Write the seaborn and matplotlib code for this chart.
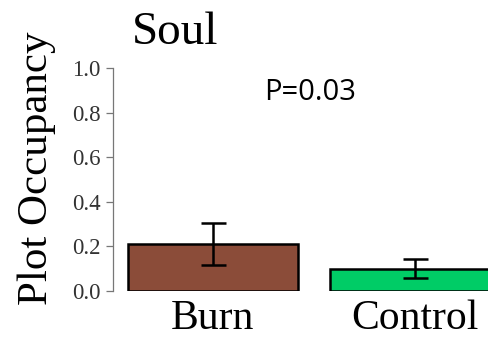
import matplotlib
matplotlib.use("Agg")
import matplotlib.pyplot as plt
import seaborn as sns
import pandas as pd

# Plot occupancy per treatment, with error half-widths
treatments = ["Burn", "Control"]
occupancy = [0.21, 0.10]
err = [0.094, 0.042]
bar_colors = ["#8B4C39", "#00CC66"]
yticks = [0.0, 0.2, 0.4, 0.6, 0.8, 1.0]
p_label = "P=0.03"

sns.set_theme(style="white")
plt.rcParams["font.family"] = ["Liberation Serif", "DejaVu Serif"]

df = pd.DataFrame({"treatment": treatments, "occupancy": occupancy})

fig = plt.figure(figsize=(4.88, 3.38), dpi=100)
ax = fig.add_axes([113 / 488, 47 / 338, 1 - 113 / 488, 223 / 338])

sns.barplot(data=df, x="treatment", y="occupancy", hue="treatment",
            palette=bar_colors, errorbar=None, width=0.84, legend=False,
            edgecolor="black", linewidth=1.8, saturation=1, ax=ax)
ax.errorbar(range(len(treatments)), occupancy, yerr=err, fmt="none",
            ecolor="black", elinewidth=1.8, capsize=9, capthick=1.8, zorder=5)

ax.set_xlim(-0.494, 1.361)
ax.set_ylim(0, 1)
ax.set_yticks(yticks)
ax.set_yticklabels([f"{t:.1f}" for t in yticks])
ax.tick_params(axis="y", direction="out", length=5, width=0.9, color="#777777",
               labelsize=16.5, labelcolor="#333333", pad=4, left=True)
ax.tick_params(axis="x", length=0, labelsize=30, labelcolor="black", pad=6)

for side in ["top", "right", "bottom"]:
    ax.spines[side].set_visible(False)
ax.spines["left"].set_color("#777777")
ax.spines["left"].set_linewidth(0.9)
ax.spines["left"].set_bounds(0, 1)
ax.set_xlabel("")
ax.set_ylabel("")

ax.text(0.48, 0.89, p_label, ha="center", va="center", fontsize=21,
        family=["Open Sans", "DejaVu Sans"], color="black")

fig.text(37 / 488, 1 - 168 / 338, "Plot Occupancy", rotation=90,
         ha="center", va="center", fontsize=31, color="black")
fig.text(175 / 488, 1 - 44 / 338, "Soul", ha="center", va="baseline",
         fontsize=34, color="black")

fig.savefig("out.png", dpi=100)
